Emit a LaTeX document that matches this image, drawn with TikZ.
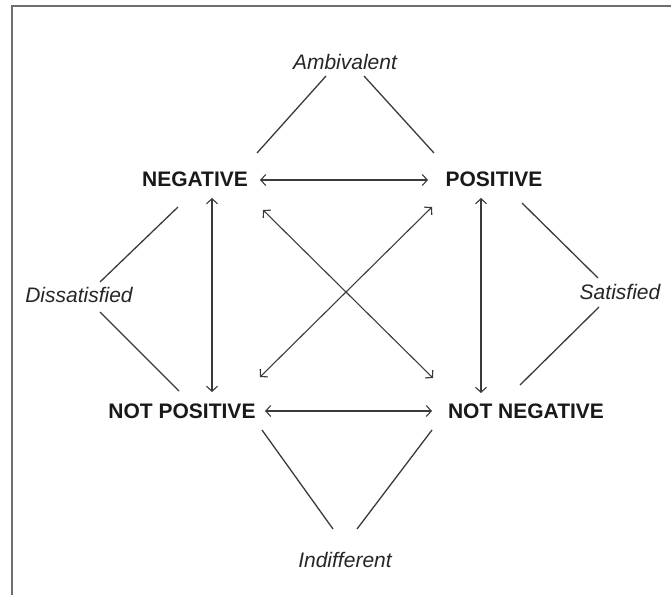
\documentclass[tikz,border=0pt]{standalone}
\usepackage{fontspec}
\setmainfont{Liberation Sans}
\usetikzlibrary{arrows.meta}

\definecolor{inkgray}{HTML}{3A3A3A}
\definecolor{framegray}{HTML}{6E6E6E}

\begin{document}
\begin{tikzpicture}[x=1pt, y=-1pt,
        term/.style={font=\fontsize{21}{24}\selectfont\bfseries, text=black!90, inner sep=2pt},
        mood/.style={font=\fontsize{21}{24}\selectfont\itshape, text=black!85, inner sep=2pt},
        link/.style={draw=inkgray, line width=1.3pt},
        rel/.style={draw=inkgray, line width=1.1pt, {Straight Barb[length=5pt,width=11pt]}-{Straight Barb[length=5pt,width=11pt]}}]
        \useasboundingbox (0,0) rectangle (671,595);
        \draw[framegray, line width=2pt] (12,595) -- (12,6) -- (671,6);

        \node (amb) [mood] at (345,62) {Ambivalent};
        \node (neg) [term] at (195,179) {NEGATIVE};
        \node (pos) [term] at (494,179) {POSITIVE};
        \node (dis) [mood] at (79,295) {Dissatisfied};
        \node (sat) [mood] at (620,292) {Satisfied};
        \node (notpos) [term] at (182,411) {NOT POSITIVE};
        \node (notneg) [term] at (526,411) {NOT NEGATIVE};
        \node (ind) [mood] at (345,560) {Indifferent};

        % plain lines to the four moods
        \draw[link] ([shift={(-19pt,-14pt)}]amb.center) -- ([shift={(62pt,26pt)}]neg.center);
        \draw[link] ([shift={(19pt,-14pt)}]amb.center) -- ([shift={(-60pt,26pt)}]pos.center);
        \draw[link] ([shift={(-17pt,-28pt)}]neg.center) -- ([shift={(21pt,13pt)}]dis.center);
        \draw[link] ([shift={(21pt,-17pt)}]dis.center) -- ([shift={(-3pt,20pt)}]notpos.center);
        \draw[link] ([shift={(28pt,-24pt)}]pos.center) -- ([shift={(-22pt,14pt)}]sat.center);
        \draw[link] ([shift={(-21pt,-15pt)}]sat.center) -- ([shift={(-6pt,26pt)}]notneg.center);
        \draw[link] ([shift={(80pt,-19pt)}]notpos.center) -- ([shift={(-12pt,31pt)}]ind.center);
        \draw[link] ([shift={(-94pt,-19pt)}]notneg.center) -- ([shift={(12pt,31pt)}]ind.center);

        % relations between the four terms
        \draw[rel] ([shift={(65pt,-1pt)}]neg.center) -- ([shift={(-66pt,-1pt)}]pos.center);
        \draw[rel] ([shift={(83pt,0pt)}]notpos.center) -- ([shift={(-94pt,0pt)}]notneg.center);
        \draw[rel] ([shift={(17pt,-19pt)}]neg.center) -- ([shift={(30pt,19pt)}]notpos.center);
        \draw[rel] ([shift={(-13pt,-19pt)}]pos.center) -- ([shift={(-45pt,18pt)}]notneg.center);
        \draw[rel] ([shift={(68pt,-31pt)}]neg.center) -- ([shift={(-93pt,33pt)}]notneg.center);
        \draw[rel] ([shift={(-62pt,-28pt)}]pos.center) -- ([shift={(78pt,34pt)}]notpos.center);
\end{tikzpicture}
\end{document}
